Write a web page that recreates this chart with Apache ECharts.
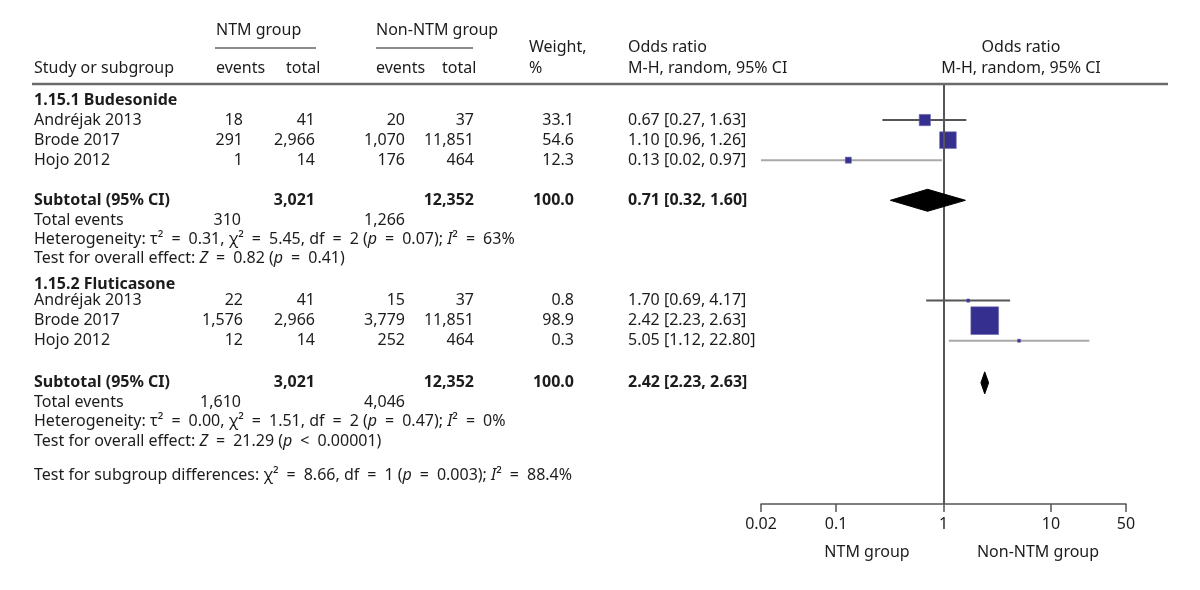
<!DOCTYPE html>
<html><head><meta charset="utf-8">
<script src="https://cdn.jsdelivr.net/npm/echarts@6/dist/echarts.min.js"></script>
<style>html,body{margin:0;padding:0;background:#fff}#c{width:1200px;height:590px}</style>
</head><body><div id="c"></div>
<script>
// ---------- data ----------
const studies = ['Andréjak 2013', 'Brode 2017', 'Hojo 2012'];
const budNtmEvents = [18, 291, 1];
const budNtmTotal = [41, 2966, 14];
const budNonEvents = [20, 1070, 176];
const budNonTotal = [37, 11851, 464];
const budWeight = [33.1, 54.6, 12.3];
const budOR = [0.67, 1.10, 0.13];
const budLo = [0.27, 0.96, 0.02];
const budHi = [1.63, 1.26, 0.97];

const fluNtmEvents = [22, 1576, 12];
const fluNtmTotal = [41, 2966, 14];
const fluNonEvents = [15, 3779, 252];
const fluNonTotal = [37, 11851, 464];
const fluWeight = [0.8, 98.9, 0.3];
const fluOR = [1.70, 2.42, 5.05];
const fluLo = [0.69, 2.23, 1.12];
const fluHi = [4.17, 2.63, 22.80];

const subOR = [0.71, 2.42];
const subLo = [0.32, 2.23];
const subHi = [1.60, 2.63];
const subNtmTotal = [3021, 3021];
const subNonTotal = [12352, 12352];
const subNtmEvents = [310, 1610];
const subNonEvents = [1266, 4046];

const tickValues = [0.02, 0.1, 1, 10, 50];
const tickLabels = ['0.02', '0.1', '1', '10', '50'];

// row indices (line slots) in the table
const budRows = [1, 2, 3];
const fluRows = [10, 11, 12];
const subRows = [5, 14.1];

// ---------- layout helpers ----------
const ROW0 = 100, ROWH = 20.06;
const rowY = r => ROW0 + ROWH * r;
const FONT = '"Noto Sans", "Open Sans", sans-serif';
const FS = 16;
const TXT = '#1c1c1c';
const fmt = n => n.toLocaleString('en-US');
const f2 = n => n.toFixed(2);
const ci = (o, l, h) => f2(o) + ' [' + f2(l) + ', ' + f2(h) + ']';
const wide = s => s.replace(/ ([=<]) /g, '\u2002$1\u2002');

const g = [];
function t(text, x, y, align, bold, rich) {
  const s = { text: text, x: x, y: y, fill: TXT, fontFamily: FONT, fontSize: FS,
    fontWeight: bold ? 'bold' : 'normal', textAlign: align || 'left', textVerticalAlign: 'middle' };
  if (rich) s.rich = { i: { fontStyle: 'italic', fontFamily: FONT, fontSize: FS, fill: TXT } };
  g.push({ type: 'text', silent: true, style: s });
}
// header
t('NTM group', 216, 30);
t('Non-NTM group', 376, 30);
t('Weight,', 529, 47);
t('Odds ratio', 628, 47);
t('Odds ratio', 1021, 47, 'center');
t('Study or subgroup', 34, 68);
t('events', 216, 68); t('total', 286, 68);
t('events', 376, 68); t('total', 442, 68);
t('%', 529, 68);
t('M-H, random, 95% CI', 628, 68);
t('M-H, random, 95% CI', 1021, 68, 'center');
g.push({ type: 'line', silent: true, shape: { x1: 215, y1: 48, x2: 316, y2: 48 }, style: { stroke: '#666', lineWidth: 1.5 } });
g.push({ type: 'line', silent: true, shape: { x1: 376, y1: 48, x2: 473, y2: 48 }, style: { stroke: '#666', lineWidth: 1.5 } });
g.push({ type: 'line', silent: true, shape: { x1: 32, y1: 84, x2: 1168, y2: 84 }, style: { stroke: '#6b6b6b', lineWidth: 2.5 } });

const C_EV = 243, C_TOT = 315, C_NEV = 405, C_NTOT = 474, C_W = 574, C_OR = 628;
function studyBlock(rows, ne, nt, oe, ot, w, o, l, h) {
  rows.forEach((r, i) => {
    const y = rowY(r);
    t(studies[i], 34, y);
    t(fmt(ne[i]), C_EV, y, 'right'); t(fmt(nt[i]), C_TOT, y, 'right');
    t(fmt(oe[i]), C_NEV, y, 'right'); t(fmt(ot[i]), C_NTOT, y, 'right');
    t(w[i].toFixed(1), C_W, y, 'right');
    t(ci(o[i], l[i], h[i]), C_OR, y);
  });
}
t('1.15.1 Budesonide', 34, rowY(0), 'left', true);
studyBlock(budRows, budNtmEvents, budNtmTotal, budNonEvents, budNonTotal, budWeight, budOR, budLo, budHi);
t('1.15.2 Fluticasone', 34, rowY(9.2), 'left', true);
studyBlock(fluRows, fluNtmEvents, fluNtmTotal, fluNonEvents, fluNonTotal, fluWeight, fluOR, fluLo, fluHi);

const hetTexts = [
  'Heterogeneity: τ² = 0.31, χ² = 5.45, df = 2 ({i|p} = 0.07); {i|I}² = 63%',
  'Heterogeneity: τ² = 0.00, χ² = 1.51, df = 2 ({i|p} = 0.47); {i|I}² = 0%'
];
const effTexts = [
  'Test for overall effect: {i|Z} = 0.82 ({i|p} = 0.41)',
  'Test for overall effect: {i|Z} = 21.29 ({i|p} < 0.00001)'
];
subRows.forEach((r, k) => {
  const y = rowY(r);
  t('Subtotal (95% CI)', 34, y, 'left', true);
  t(fmt(subNtmTotal[k]), C_TOT, y, 'right', true);
  t(fmt(subNonTotal[k]), C_NTOT, y, 'right', true);
  t('100.0', C_W, y, 'right', true);
  t(ci(subOR[k], subLo[k], subHi[k]), C_OR, y, 'left', true);
  const y2 = rowY(r + 1);
  t('Total events', 34, y2);
  t(fmt(subNtmEvents[k]), C_EV - 2, y2, 'right');
  t(fmt(subNonEvents[k]), C_NEV, y2, 'right');
  t(wide(hetTexts[k]), 34, rowY(r + 1.93), 'left', false, true);
  t(wide(effTexts[k]), 34, rowY(r + 2.9), 'left', false, true);
});
t(wide('Test for subgroup differences: χ² = 8.66, df = 1 ({i|p} = 0.003); {i|I}² = 88.4%'), 34, rowY(18.7), 'left', false, true);
t('NTM group', 867, 552, 'center');
t('Non-NTM group', 1038, 552, 'center');

// ---------- forest marks ----------
const L = Math.log10;
const ciData = [];
const sqData = [];
function addStudies(rows, o, l, h, w) {
  rows.forEach((r, i) => {
    ciData.push({ value: [L(l[i]), L(h[i]), r], faint: i === 2 });
    sqData.push([L(o[i]), r, w[i]]);
  });
}
addStudies(budRows, budOR, budLo, budHi, budWeight);
addStudies(fluRows, fluOR, fluLo, fluHi, fluWeight);
const dmData = subRows.map((r, k) => [L(subLo[k]), L(subOR[k]), L(subHi[k]), r]);

const chart = echarts.init(document.getElementById('c'), null, { renderer: 'canvas' });
chart.setOption({
  animation: false,
  backgroundColor: '#fff',
  graphic: g,
  grid: { left: 761, right: 74, top: 85, bottom: 86 },
  xAxis: {
    type: 'value', min: L(0.02), max: L(50), position: 'bottom',
    splitLine: { show: false },
    axisLine: { show: true, onZero: false, lineStyle: { color: '#555', width: 1.5 } },
    axisTick: { show: true, length: 8, customValues: tickValues.map(L), lineStyle: { color: '#555', width: 1.5 } },
    axisLabel: {
      customValues: tickValues.map(L), margin: 12, color: TXT, fontFamily: FONT, fontSize: FS,
      formatter: v => { const i = tickValues.findIndex(tv => Math.abs(L(tv) - v) < 1e-6); return i >= 0 ? tickLabels[i] : ''; }
    }
  },
  yAxis: { type: 'value', inverse: true, min: -0.748, max: 20.14, show: false, splitLine: { show: false } },
  series: [
    {
      type: 'custom', z: 2, clip: false,
      data: ciData,
      renderItem: (params, api) => {
        const p1 = api.coord([api.value(0), api.value(2)]);
        const p2 = api.coord([api.value(1), api.value(2)]);
        const faint = ciData[params.dataIndex].faint;
        return { type: 'line', shape: { x1: p1[0], y1: p1[1], x2: p2[0], y2: p2[1] },
          style: { stroke: faint ? '#a9a9a9' : '#555', lineWidth: 2 } };
      }
    },
    {
      type: 'scatter', z: 4, symbol: 'rect',
      data: sqData,
      symbolSize: v => 3 + 0.25 * v[2],
      itemStyle: { color: '#35308f', borderColor: '#6a66b0', borderWidth: 0.6, opacity: 1 },
      markLine: {
        silent: true, symbol: 'none', label: { show: false },
        lineStyle: { color: '#555', width: 2, type: 'solid' },
        data: [{ xAxis: 0 }]
      }
    },
    {
      type: 'custom', z: 5, clip: false,
      data: dmData,
      renderItem: (params, api) => {
        const a = api.coord([api.value(0), api.value(3)]);
        const m = api.coord([api.value(1), api.value(3)]);
        const b = api.coord([api.value(2), api.value(3)]);
        const hh = 11;
        return { type: 'polygon', shape: { points: [[a[0], a[1]], [m[0], m[1] - hh], [b[0], b[1]], [m[0], m[1] + hh]] },
          style: { fill: '#000', stroke: '#000', lineWidth: 1 } };
      }
    }
  ]
});
</script></body></html>
